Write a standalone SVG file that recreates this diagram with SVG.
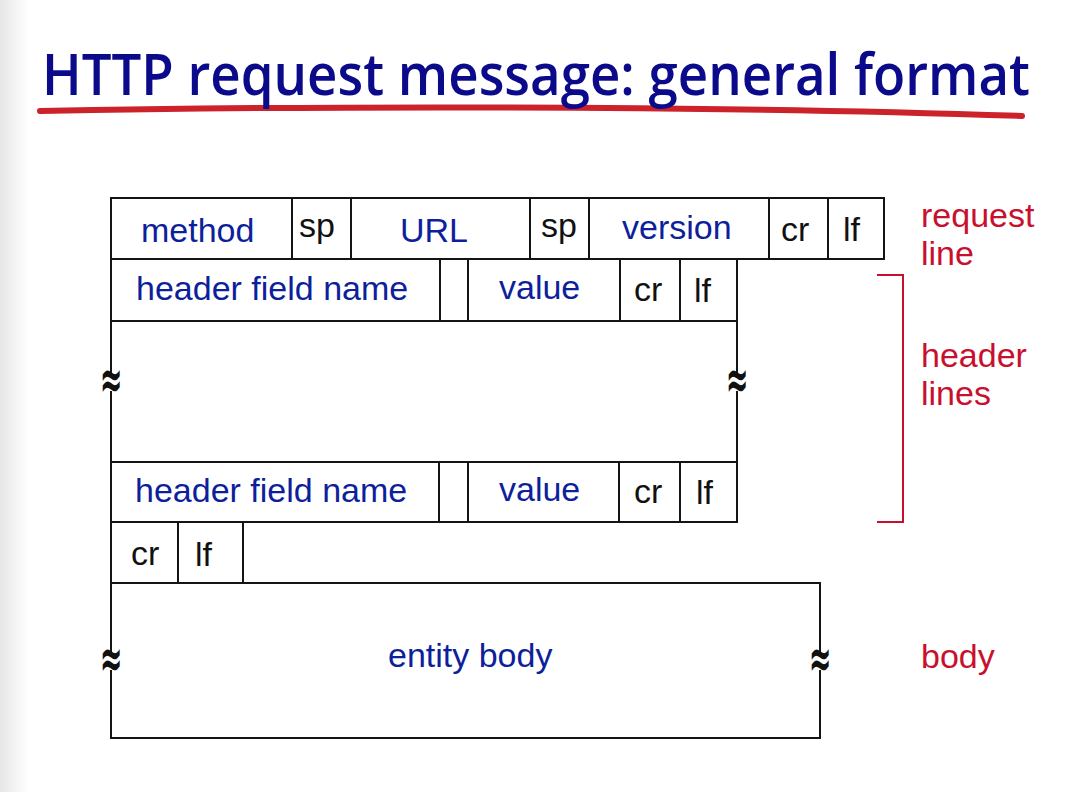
<svg xmlns="http://www.w3.org/2000/svg" width="1088" height="792" viewBox="0 0 1088 792">
  <defs>
    <linearGradient id="edgeShade" x1="0" y1="0" x2="1" y2="0">
      <stop offset="0" stop-color="#e6e6e6"/>
      <stop offset="1" stop-color="#ffffff"/>
    </linearGradient>
    <style>
      .cell { fill: #ffffff; stroke: #141414; stroke-width: 2; }
      .div { stroke: #141414; stroke-width: 2; }
      .t { font-family: "Liberation Sans", Arial, sans-serif; font-size: 34px; }
      .blue { fill: #0d1f9b; }
      .black { fill: #111111; }
      .red { fill: #c8102e; }
      .title { font-family: "Open Sans", "Noto Sans", sans-serif; font-size: 48px; font-weight: 600; fill: #0a0a8a; }
      .wave { font-family: "DejaVu Sans", sans-serif; font-size: 27px; font-weight: bold; fill: #111111; }
      .gap { fill: #ffffff; }
    </style>
  </defs>

  <!-- page background with soft left edge shading -->
  <rect x="0" y="0" width="1088" height="792" fill="#ffffff"/>
  <rect x="0" y="0" width="28" height="792" fill="url(#edgeShade)"/>

  <!-- title with brush underline -->
  <g id="title">
    <path d="M40,111 C 300,106 700,105 1022,116" fill="none" stroke="#cc2229" stroke-width="6" stroke-linecap="round"/>
    <text class="title" transform="translate(42,95) scale(1,1.2)" x="0" y="0" textLength="988" lengthAdjust="spacingAndGlyphs">HTTP request message: general format</text>
  </g>

  <!-- request line: method sp URL sp version cr lf -->
  <g id="request-line">
    <rect class="cell" x="111" y="198" width="773" height="61"/>
    <line class="div" x1="292" y1="198" x2="292" y2="259"/>
    <line class="div" x1="351" y1="198" x2="351" y2="259"/>
    <line class="div" x1="530" y1="198" x2="530" y2="259"/>
    <line class="div" x1="589" y1="198" x2="589" y2="259"/>
    <line class="div" x1="769" y1="198" x2="769" y2="259"/>
    <line class="div" x1="828" y1="198" x2="828" y2="259"/>
    <text class="t blue" x="141" y="242">method</text>
    <text class="t black" x="299" y="237">sp</text>
    <text class="t blue" x="400" y="242">URL</text>
    <text class="t black" x="541" y="237">sp</text>
    <text class="t blue" x="622" y="239">version</text>
    <text class="t black" x="781" y="241">cr</text>
    <text class="t black" x="843" y="241">lf</text>
  </g>

  <!-- first header line -->
  <g id="header-line-1">
    <rect class="cell" x="111" y="259" width="626" height="62"/>
    <line class="div" x1="440" y1="259" x2="440" y2="321"/>
    <line class="div" x1="468" y1="259" x2="468" y2="321"/>
    <line class="div" x1="620" y1="259" x2="620" y2="321"/>
    <line class="div" x1="680" y1="259" x2="680" y2="321"/>
    <text class="t blue" x="136" y="300">header field name</text>
    <text class="t blue" x="499" y="299">value</text>
    <text class="t black" x="634" y="301">cr</text>
    <text class="t black" x="694" y="302">lf</text>
  </g>

  <!-- elided header lines, broken edges marked with ≈ -->
  <g id="header-lines-elided">
    <rect class="cell" x="111" y="321" width="626" height="141"/>
    <rect class="gap" x="102" y="373" width="18" height="18"/>
    <rect class="gap" x="728" y="373" width="18" height="18"/>
    <text class="wave" transform="translate(111,382) scale(1,2)" y="8" text-anchor="middle">≈</text>
    <text class="wave" transform="translate(737,382) scale(1,2)" y="8" text-anchor="middle">≈</text>
  </g>

  <!-- last header line -->
  <g id="header-line-n">
    <rect class="cell" x="111" y="462" width="626" height="60"/>
    <line class="div" x1="439" y1="462" x2="439" y2="522"/>
    <line class="div" x1="468" y1="462" x2="468" y2="522"/>
    <line class="div" x1="619" y1="462" x2="619" y2="522"/>
    <line class="div" x1="680" y1="462" x2="680" y2="522"/>
    <text class="t blue" x="135" y="502">header field name</text>
    <text class="t blue" x="499" y="501">value</text>
    <text class="t black" x="634" y="503">cr</text>
    <text class="t black" x="696" y="504">lf</text>
  </g>

  <!-- blank line -->
  <g id="blank-line">
    <rect class="cell" x="111" y="522" width="132" height="61"/>
    <line class="div" x1="178" y1="522" x2="178" y2="583"/>
    <text class="t black" x="131" y="565">cr</text>
    <text class="t black" x="195" y="566">lf</text>
  </g>

  <!-- entity body -->
  <g id="entity-body">
    <rect class="cell" x="111" y="583" width="709" height="155"/>
    <rect class="gap" x="102" y="652" width="18" height="18"/>
    <rect class="gap" x="811" y="652" width="18" height="18"/>
    <text class="wave" transform="translate(111,661) scale(1,2)" y="8" text-anchor="middle">≈</text>
    <text class="wave" transform="translate(820,661) scale(1,2)" y="8" text-anchor="middle">≈</text>
    <text class="t blue" x="388" y="667">entity body</text>
  </g>

  <!-- side annotations -->
  <g id="connectors">
    <path d="M877,275 H903 V522 H877" fill="none" stroke="#c8102e" stroke-width="2"/>
  </g>
  <g id="label-request-line">
    <text class="t red" x="921" y="227">request</text>
    <text class="t red" x="921" y="265">line</text>
  </g>
  <g id="label-header-lines">
    <text class="t red" x="921" y="367">header</text>
    <text class="t red" x="921" y="405">lines</text>
  </g>
  <g id="label-body">
    <text class="t red" x="921" y="668">body</text>
  </g>
</svg>
